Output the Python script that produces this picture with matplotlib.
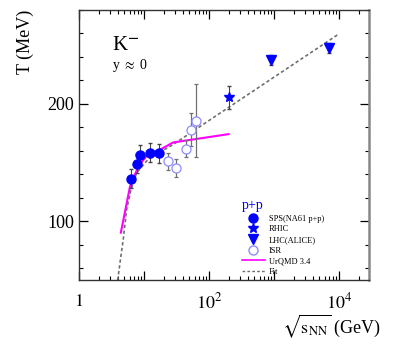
import numpy as np
import matplotlib
matplotlib.use("Agg")
import matplotlib.pyplot as plt
from matplotlib.ticker import LogLocator, FixedLocator, MultipleLocator, FuncFormatter
from matplotlib.lines import Line2D

plt.rcParams["font.family"] = ["Liberation Serif", "DejaVu Serif"]
plt.rcParams["mathtext.fontset"] = "stix"

# ── data ───────────────────────────────────────
# SPS (NA61 p+p)
na61_x = [6.3, 7.7, 8.8, 12.3, 17.3]
na61_y = [136.4, 149.2, 156.8, 158.5, 157.9]
na61_e = [8, 8, 8, 8, 8]

# RHIC
rhic_x = [200]
rhic_y = [205.7]
rhic_e = [10]

# LHC (ALICE)
lhc_x = [900, 7000]
lhc_y = [237.3, 247.7]
lhc_e = [4.5, 4]

# ISR
isr_x = [23, 31, 45, 52, 62.4]
isr_y = [151, 145.5, 161.9, 178, 185.6]
isr_e = [7, 8, 7, 14, 31]

# UrQMD 3.4 curve
urqmd_x = [4.4, 6.1, 8.2, 11.0, 17.6, 28.0, 200]
urqmd_y = [90.4, 129.9, 146.9, 155.9, 161.0, 167.2, 174.3]

# Fit curve
fit_x = [3.94, 4.35, 4.8, 5.4, 6.3, 7.7, 11.6, 28.2, 42.7, 100, 1000, 10000]
fit_y = [50, 68, 85, 110, 127, 141.3, 153, 165.5, 172.2, 185.9, 222.8, 259.7]

blue = "#0000ff"
light_blue = "#8c8cff"
magenta = "#ff00ff"
gray = "#707070"

# ── figure ─────────────────────────────────────
fig = plt.figure(figsize=(3.99, 3.51), dpi=100)
ax = fig.add_axes([0.198, 0.202, 0.727, 0.7695])

ax.plot(fit_x, fit_y, color=gray, lw=1.2, ls=(0, (2, 1.5)), zorder=2)
ax.plot(urqmd_x, urqmd_y, color=magenta, lw=1.5, zorder=3)

ax.errorbar(isr_x, isr_y, yerr=isr_e, fmt="o", ms=6.5, mfc="white",
            mec=light_blue, mew=0.9, ecolor=gray, elinewidth=0.9,
            capsize=1.2, zorder=4)
ax.errorbar(na61_x, na61_y, yerr=na61_e, fmt="o", ms=6.5, color=blue,
            ecolor="#444444", elinewidth=0.8, capsize=1.2, zorder=5)
ax.errorbar(rhic_x, rhic_y, yerr=rhic_e, fmt="*", ms=7.5, color=blue,
            ecolor="#444444", elinewidth=0.8, capsize=1.2, zorder=5)
ax.errorbar(lhc_x, lhc_y, yerr=lhc_e, fmt="v", ms=7, color=blue,
            ecolor="#444444", elinewidth=0.8, capsize=1.2, zorder=5)

ax.set_xscale("log")
ax.set_xlim(1, 2.9e4)
ax.set_ylim(50, 280)

ax.xaxis.set_major_locator(LogLocator(base=10, numticks=10))
ax.xaxis.set_minor_locator(LogLocator(base=10, subs=np.arange(2, 10), numticks=50))
labels = {1: "$1$", 100: "$10^2$", 10000: "$10^4$"}
ax.xaxis.set_major_formatter(FuncFormatter(
    lambda v, p: labels.get(int(round(v)), "")))
ax.xaxis.set_minor_formatter(FuncFormatter(lambda v, p: ""))
ax.yaxis.set_major_locator(FixedLocator([100, 200]))
ax.yaxis.set_minor_locator(MultipleLocator(20))

ax.tick_params(which="both", direction="in", top=True, right=True,
               labelsize=13)
ax.tick_params(which="major", length=6.5, width=0.9)
ax.tick_params(which="minor", length=3, width=0.8)
ax.tick_params(axis="x", pad=9)
for s in ax.spines.values():
    s.set_linewidth(1.0)
    s.set_color("#333333")
ax.spines["right"].set_color("#888888")
ax.spines["right"].set_linewidth(1.8)

ax.text(0.115, 0.87, r"K$^{\mathbf{-}}$", transform=ax.transAxes, fontsize=15,
        va="center", ha="left")
ax.text(0.115, 0.795, r"y $\approx$ 0", transform=ax.transAxes, fontsize=10,
        va="center", ha="left")

fig.text(0.063, 0.9715, "T (MeV)", rotation=90, fontsize=13,
         ha="center", va="top")
fig.text(0.955, 0.07, r"$\sqrt{\mathrm{s}_{\mathrm{NN}}}$ (GeV)", fontsize=13,
         ha="right", va="center")

# legend
handles = [
    Line2D([], [], ls="none", marker="o", ms=6.5, color=blue),
    Line2D([], [], ls="none", marker="*", ms=7.5, color=blue),
    Line2D([], [], ls="none", marker="v", ms=7, color=blue),
    Line2D([], [], ls="none", marker="o", ms=6.5, mfc="white", mec=light_blue),
    Line2D([], [], color=magenta, lw=1.2),
    Line2D([], [], color=gray, lw=1.0, ls=(0, (2, 1.5))),
]
names = ["SPS(NA61 p+p)", "RHIC", "LHC(ALICE)", "ISR", "UrQMD 3.4", "Fit"]
leg = ax.legend(handles, names, loc="upper left", bbox_to_anchor=(0.562, 0.30),
                frameon=False, fontsize=6, handlelength=2.7, handletextpad=0.5,
                labelspacing=0.32, title="p+p", title_fontsize=10,
                borderaxespad=0, borderpad=0)
leg.get_title().set_color(blue)
leg._legend_box.align = "left"

fig.savefig("out.png", dpi=100)
